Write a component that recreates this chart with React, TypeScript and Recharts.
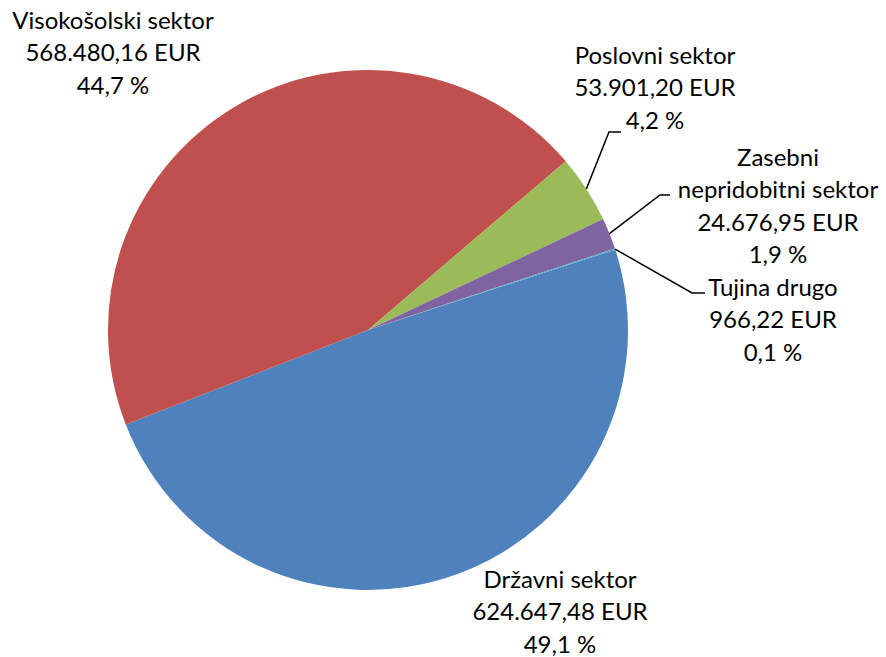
import React from 'react';
import { PieChart, Pie, Cell } from 'recharts';

const categories = ['Državni sektor', 'Visokošolski sektor', 'Poslovni sektor', 'Zasebni nepridobitni sektor', 'Tujina drugo'];
const values = [624647.48, 568480.16, 53901.2, 24676.95, 966.22];
const labelLines = [
  ['Državni sektor'],
  ['Visokošolski sektor'],
  ['Poslovni sektor'],
  ['Zasebni', 'nepridobitni sektor'],
  ['Tujina drugo'],
];
const colors = ['#4F81BD', '#C0504D', '#9BBB59', '#8064A2', '#4BACC6'];

// label layout relative to pie centre (text block centre) and leader elbows
const labelLayout = [
  { dx: 192, dy: 282, leader: null as null | number[] },
  { dx: -255, dy: -277, leader: null as null | number[] },
  { dx: 287, dy: -242, leader: [241, -198, 253, -198] },
  { dx: 410, dy: -124, leader: [292, -135, 302, -135] },
  { dx: 405, dy: -10, leader: [324, -37, 337, -37] },
];

const data = categories.map((name, i) => ({ name, value: values[i] }));
const total = values.reduce((a, b) => a + b, 0);

function fmtNum(v: number): string {
  const fixed = v.toFixed(2);
  const [int, dec] = fixed.split('.');
  const withDots = int.replace(/\B(?=(\d{3})+(?!\d))/g, '.');
  return `${withDots},${dec}`;
}
function fmtPct(v: number): string {
  return `${((v / total) * 100).toFixed(1).replace('.', ',')} %`;
}

const FONT = 24;
const LINE = 32.5;
const RAD = Math.PI / 180;

const renderLabel = (props: any) => {
  const { cx, cy, midAngle, outerRadius, index, value } = props;
  const lay = labelLayout[index];
  const lines = [...labelLines[index], `${fmtNum(value)} EUR`, fmtPct(value)];
  const n = lines.length;
  const tx = cx + lay.dx;
  const baseY = cy + lay.dy - ((n - 1) * LINE) / 2;
  let leader = null;
  if (lay.leader) {
    const sx = cx + outerRadius * Math.cos(-midAngle * RAD);
    const sy = cy + outerRadius * Math.sin(-midAngle * RAD);
    const [ex, ey, fx, fy] = lay.leader;
    leader = (
      <polyline
        points={`${sx},${sy} ${cx + ex},${cy + ey} ${cx + fx},${cy + fy}`}
        fill="none"
        stroke="#000"
        strokeWidth={1.5}
      />
    );
  }
  return (
    <g key={`lbl-${index}`}>
      {leader}
      {lines.map((t, i) => (
        <text
          key={i}
          x={tx}
          y={baseY + i * LINE + FONT * 0.35}
          textAnchor="middle"
          fontFamily="Lato, 'Open Sans', sans-serif"
          fontSize={FONT}
          fill="#000"
        >
          {t}
        </text>
      ))}
    </g>
  );
};

export default function App() {
  return (
    <div style={{ position: 'absolute', left: 0, top: 0, background: '#fff' }}>
      <PieChart width={886} height={657} margin={{ top: 0, right: 0, bottom: 0, left: 0 }}>
        <Pie
          data={data}
          dataKey="value"
          nameKey="name"
          cx={368}
          cy={330}
          outerRadius={260}
          startAngle={18}
          endAngle={-342}
          stroke="none"
          label={renderLabel}
          labelLine={false}
          isAnimationActive={false}
        >
          {data.map((d, i) => (
            <Cell key={d.name} fill={colors[i]} />
          ))}
        </Pie>
      </PieChart>
    </div>
  );
}
